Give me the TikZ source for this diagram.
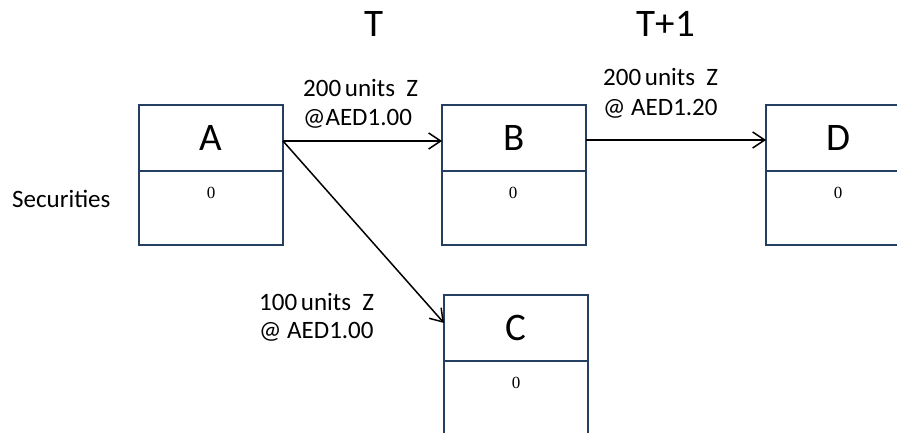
\documentclass[tikz,border=0pt]{standalone}
\usepackage{fontspec}
\setmainfont{Carlito}
\newfontfamily\serifz{Liberation Serif}
\usetikzlibrary{arrows.meta}
\definecolor{boxblue}{HTML}{243F60}
\tikzset{
  topbox/.style={draw=boxblue, line width=2pt, minimum width=144pt, minimum height=66pt, inner sep=0pt, outer sep=0pt,
    font=\fontsize{39}{44}\selectfont},
  lowbox/.style={draw=boxblue, line width=2pt, minimum width=144pt, minimum height=74pt, inner sep=0pt, outer sep=0pt, anchor=north},
  zero/.style={font=\serifz\fontsize{17}{20}\selectfont, inner sep=0pt},
  lbl/.style={font=\fontsize{25}{30}\selectfont, anchor=base west, inner sep=0pt},
  hdr/.style={font=\fontsize{39}{44}\selectfont, anchor=base, inner sep=0pt},
  arr/.style={line width=1.5pt, -{Straight Barb[length=12pt,width=16pt,line width=1.5pt]}}
}
\begin{document}
\begin{tikzpicture}[x=1pt,y=-1pt]
\useasboundingbox (0,0) rectangle (897,433);
\clip (0,0) rectangle (897,433);
% headers
\node[hdr] (hT) at (374,37) {T};
\node[hdr] (hT1) at (666,37) {T+1};
\node[lbl] (sec) at (12,207) {Securities};
% boxes
\node[topbox] (A) at (211,138) {A};
\node[lowbox] (Al) at (A.south) {};
\node[zero] (A0) at (211,193) {0};
\node[topbox] (B) at (514,138) {B};
\node[lowbox] (Bl) at (B.south) {};
\node[zero] (B0) at (513,193) {0};
\node[topbox] (D) at (838,138) {D};
\node[lowbox] (Dl) at (D.south) {};
\node[zero] (D0) at (838,193) {0};
\node[topbox] (C) at (516,328) {C};
\node[lowbox] (Cl) at (C.south) {};
\node[zero] (C0) at (516,383) {0};
% arrows
\draw[arr] ([yshift=-3pt]A.east) -- ([yshift=-3pt]B.west);
\draw[arr] ([yshift=-2pt]B.east) -- ([yshift=-2pt]D.west);
\draw[arr] ([yshift=-3pt]A.east) -- ([yshift=5pt]C.west);
% labels
\node[lbl] (ab1) at (303,97) {200\hspace{0.15em}units\ \ Z};
\node[lbl] (ab2) at (303,126) {@AED1.00};
\node[lbl] (bd1) at (603,86) {200\hspace{0.15em}units\ \ Z};
\node[lbl] (bd2) at (603,116) {@ AED1.20};
\node[lbl] (ac1) at (259,310) {100\hspace{0.15em}units\ \ Z};
\node[lbl] (ac2) at (259,338) {@ AED1.00};
\end{tikzpicture}
\end{document}
